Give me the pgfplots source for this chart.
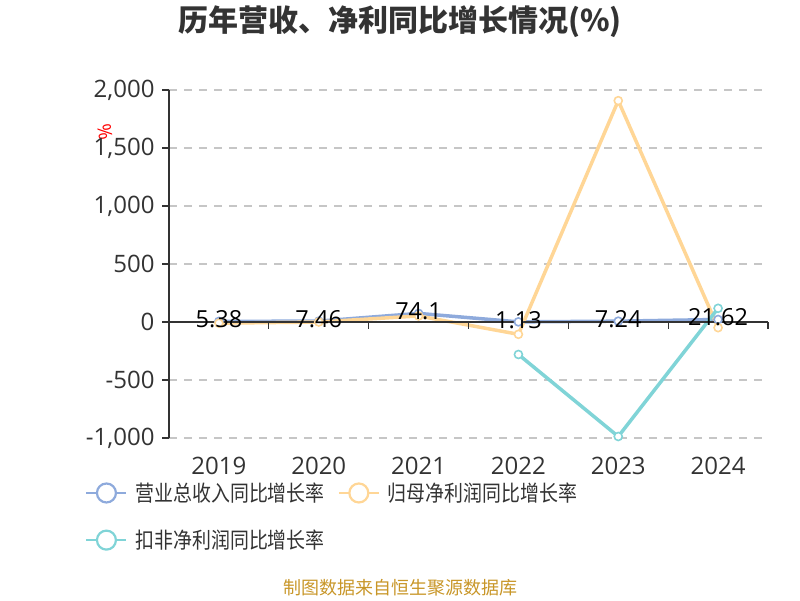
\documentclass[border=0pt]{standalone}
\usepackage{fontspec}
\setmainfont{Noto Sans CJK SC}
\newfontfamily\numfont{Open Sans}
\newfontfamily\legfont[FakeStretch=0.86]{Noto Sans CJK SC}
\usepackage{pgfplots}
\pgfplotsset{compat=1.18}
\definecolor{rev}{RGB}{142,170,220}
\definecolor{np}{RGB}{255,214,150}
\definecolor{kf}{RGB}{128,212,215}
\definecolor{txt}{RGB}{51,51,51}
\definecolor{gold}{RGB}{200,150,40}
\begin{document}
\begin{tikzpicture}
\useasboundingbox (0,0) rectangle (800pt,600pt);
\node[font=\fontsize{30}{34}\selectfont\bfseries, text=txt] at (400pt,578pt) {历年营收、净利同比增长情况(\%)};
\node[font=\fontsize{18}{20}\selectfont, text=gold] at (400pt,12pt) {制图数据来自恒生聚源数据库};
\node[font=\numfont\fontsize{19}{20}\selectfont, text=red, rotate=-80] at (105pt,468pt) {\%};
\begin{axis}[
 at={(169pt,162pt)}, anchor=south west,
 scale only axis, width=599pt, height=348pt,
 xmin=-0.5, xmax=5.5, ymin=-1000, ymax=2000,
 axis lines*=left, x axis line style={draw=none},
 xtick={0,...,5}, xticklabels={2019,2020,2021,2022,2023,2024},
 xtick style={draw=none},
 xticklabel style={anchor=center, yshift=-21pt},
 ytick={-1000,-500,0,500,1000,1500,2000},
 y axis line style={txt, line width=1.3pt},
 ytick style={txt, line width=1.3pt},
 tick align=outside, major tick length=7pt,
 ymajorgrids, grid style={dash pattern=on 8pt off 7pt, color=gray!45, line width=1.2pt},
 tick label style={font=\numfont\fontsize{24}{26}\selectfont, text=txt},
 yticklabel style={anchor=east, xshift=-4pt},
 /pgf/number format/.cd, 1000 sep={,}, assume math mode=true, /pgfplots/.cd,
 legend columns=2,
 legend style={draw=none, fill=none, at={(-0.145,-0.117)}, anchor=north west,
   font=\legfont\fontsize{22}{24}\selectfont, text=txt, row sep=23pt,
   /tikz/every odd column/.append style={column sep=6pt},
   /tikz/every even column/.append style={column sep=11pt}},
 legend cell align=left,
 legend image code/.code={
   \draw[#1, mark=none, line width=2.2pt] (0pt,0pt) -- (40pt,0pt);
   \draw[#1, mark=none, fill=white, line width=2.2pt] (20pt,0pt) circle (9.5pt);
 },
 clip=false,
]
\addplot[rev, line width=3.5pt, mark=*, mark size=4pt, mark options={fill=white, draw=rev, line width=1.6pt}]
 coordinates {(0,5.38) (1,7.46) (2,74.1) (3,1.13) (4,7.24) (5,21.62)};
\addlegendentry{营业总收入同比增长率}
\addplot[np, line width=3.5pt, mark=*, mark size=4pt, mark options={fill=white, draw=np, line width=1.6pt}]
 coordinates {(0,-10) (1,0) (2,52) (3,-106) (4,1908) (5,-49)};
\addlegendentry{归母净利润同比增长率}
\addplot[kf, line width=3.5pt, mark=*, mark size=4pt, mark options={fill=white, draw=kf, line width=1.6pt}]
 coordinates {(3,-280) (4,-987) (5,118)};
\addlegendentry{扣非净利润同比增长率}
\draw[txt, line width=1.3pt] (axis cs:-0.5,0) -- (axis cs:5.5,0);
\pgfplotsinvokeforeach{-0.5,0.5,1.5,2.5,3.5,4.5,5.5}{
  \draw[txt, line width=1.3pt] (axis cs:#1,0) -- ++(0pt,-7pt);
}
\addplot[draw=none, mark=none, forget plot, nodes near coords, point meta=explicit symbolic,
  every node near coord/.style={anchor=center, yshift=2pt, font=\numfont\fontsize{23.5}{26}\selectfont, text=black}]
 table[meta=lab] {
x y lab
0 5.38 5.38
1 7.46 7.46
2 74.1 74.1
3 1.13 1.13
4 7.24 7.24
5 21.62 21.62
};
\end{axis}
\end{tikzpicture}
\end{document}
